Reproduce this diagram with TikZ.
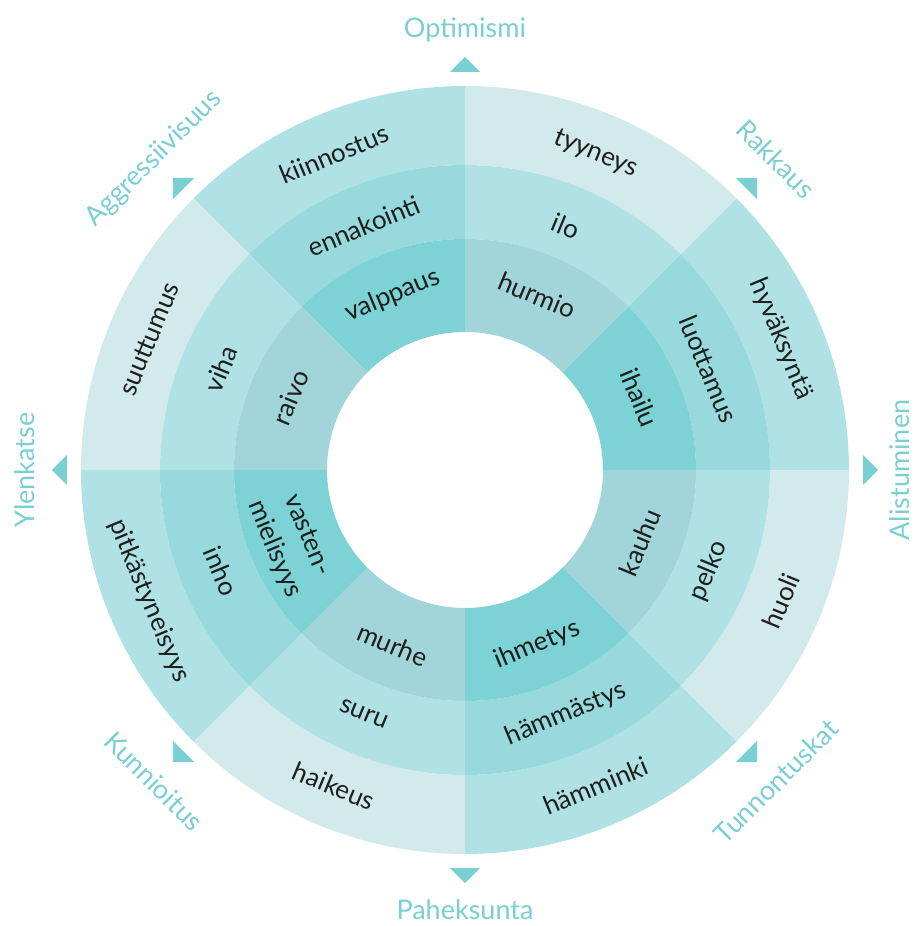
\documentclass[tikz,border=0pt]{standalone}
\usepackage{fontspec}
\setmainfont{Lato}

\definecolor{pale}{HTML}{D3EAEC}
\definecolor{soft}{HTML}{B0E2E5}
\definecolor{deep}{HTML}{97D9DD}
\definecolor{strong}{HTML}{7DD2D5}
\definecolor{greyish}{HTML}{A1D5D9}
\definecolor{axiscol}{HTML}{7ACFD3}
\definecolor{ink}{HTML}{1E1E1E}

\begin{document}
\begin{tikzpicture}[x=1pt,y=1pt,
    word/.style={text=ink,font=\fontsize{26}{36}\selectfont,align=center},
    axis/.style={text=axiscol,font=\fontsize{27}{32}\selectfont},
    tip/.style={fill=axiscol}]
    \useasboundingbox (-465,-456) rectangle (452,470);
    % three rings, one sector every 45 degrees: outer / middle / inner colour
    \foreach \a/\co/\cm/\ci in {90/soft/deep/strong, 45/pale/soft/greyish,
        0/soft/deep/strong, -45/pale/soft/greyish, -90/soft/deep/strong,
        -135/pale/soft/greyish, 180/soft/deep/strong, 135/pale/soft/greyish}{
        \fill[\co] (\a:305) arc (\a:\a+45:305) -- (\a+45:384) arc (\a+45:\a:384) -- cycle;
        \fill[\cm] (\a:231) arc (\a:\a+45:231) -- (\a+45:305) arc (\a+45:\a:305) -- cycle;
        \fill[\ci] (\a:138) arc (\a:\a+45:138) -- (\a+45:231) arc (\a+45:\a:231) -- cycle;
    }
    % arrow tips
    \foreach \a in {0,45,...,315}
        \fill[tip,rotate=\a] (398,-15) -- (413,0) -- (398,15) -- cycle;

    \node[word,rotate=22.5] (kiinnostus) at (112.5:342) {kiinnostus};
    \node[word,rotate=22.5] (ennakointi) at (112.5:264) {ennakointi};
    \node[word,rotate=22.5] (valppaus) at (112.5:189) {valppaus};
    \node[word,rotate=-22.5] (tyyneys) at (67.5:342) {tyyneys};
    \node[word,rotate=-22.5] (ilo) at (67.5:264) {ilo};
    \node[word,rotate=-22.5] (hurmio) at (67.5:189) {hurmio};
    \node[word,rotate=-67.5] (hyvaksynta) at (22.5:342) {hyväksyntä};
    \node[word,rotate=-67.5] (luottamus) at (22.5:264) {luottamus};
    \node[word,rotate=-67.5] (ihailu) at (22.5:189) {ihailu};
    \node[word,rotate=67.5] (huoli) at (-22.5:342) {huoli};
    \node[word,rotate=67.5] (pelko) at (-22.5:264) {pelko};
    \node[word,rotate=67.5] (kauhu) at (-22.5:189) {kauhu};
    \node[word,rotate=22.5] (hamminki) at (-67.5:342) {hämminki};
    \node[word,rotate=22.5] (hammastys) at (-67.5:264) {hämmästys};
    \node[word,rotate=22.5] (ihmetys) at (-67.5:189) {ihmetys};
    \node[word,rotate=-22.5] (haikeus) at (-112.5:342) {haikeus};
    \node[word,rotate=-22.5] (suru) at (-112.5:264) {suru};
    \node[word,rotate=-22.5] (murhe) at (-112.5:189) {murhe};
    \node[word,rotate=-67.5] (pitkastyneisyys) at (-157.5:342) {pitkästyneisyys};
    \node[word,rotate=-67.5] (inho) at (-157.5:264) {inho};
    \node[word,rotate=-67.5] (vastenmielisyys) at (-157.5:189) {vasten-\\mielisyys};
    \node[word,rotate=67.5] (suuttumus) at (157.5:342) {suuttumus};
    \node[word,rotate=67.5] (viha) at (157.5:264) {viha};
    \node[word,rotate=67.5] (raivo) at (157.5:189) {raivo};

    \node[axis] (optimismi) at (90:440) {Optimismi};
    \node[axis,rotate=-45] (rakkaus) at (45:440) {Rakkaus};
    \node[axis,rotate=90] (alistuminen) at (0:435) {Alistuminen};
    \node[axis,rotate=45] (tunnontuskat) at (-45:440) {Tunnontuskat};
    \node[axis] (paheksunta) at (-90:440) {Paheksunta};
    \node[axis,rotate=-45] (kunnioitus) at (-135:440) {Kunnioitus};
    \node[axis,rotate=90] (ylenkatse) at (180:440) {Ylenkatse};
    \node[axis,rotate=45] (aggressiivisuus) at (135:440) {Aggressiivisuus};
\end{tikzpicture}
\end{document}
